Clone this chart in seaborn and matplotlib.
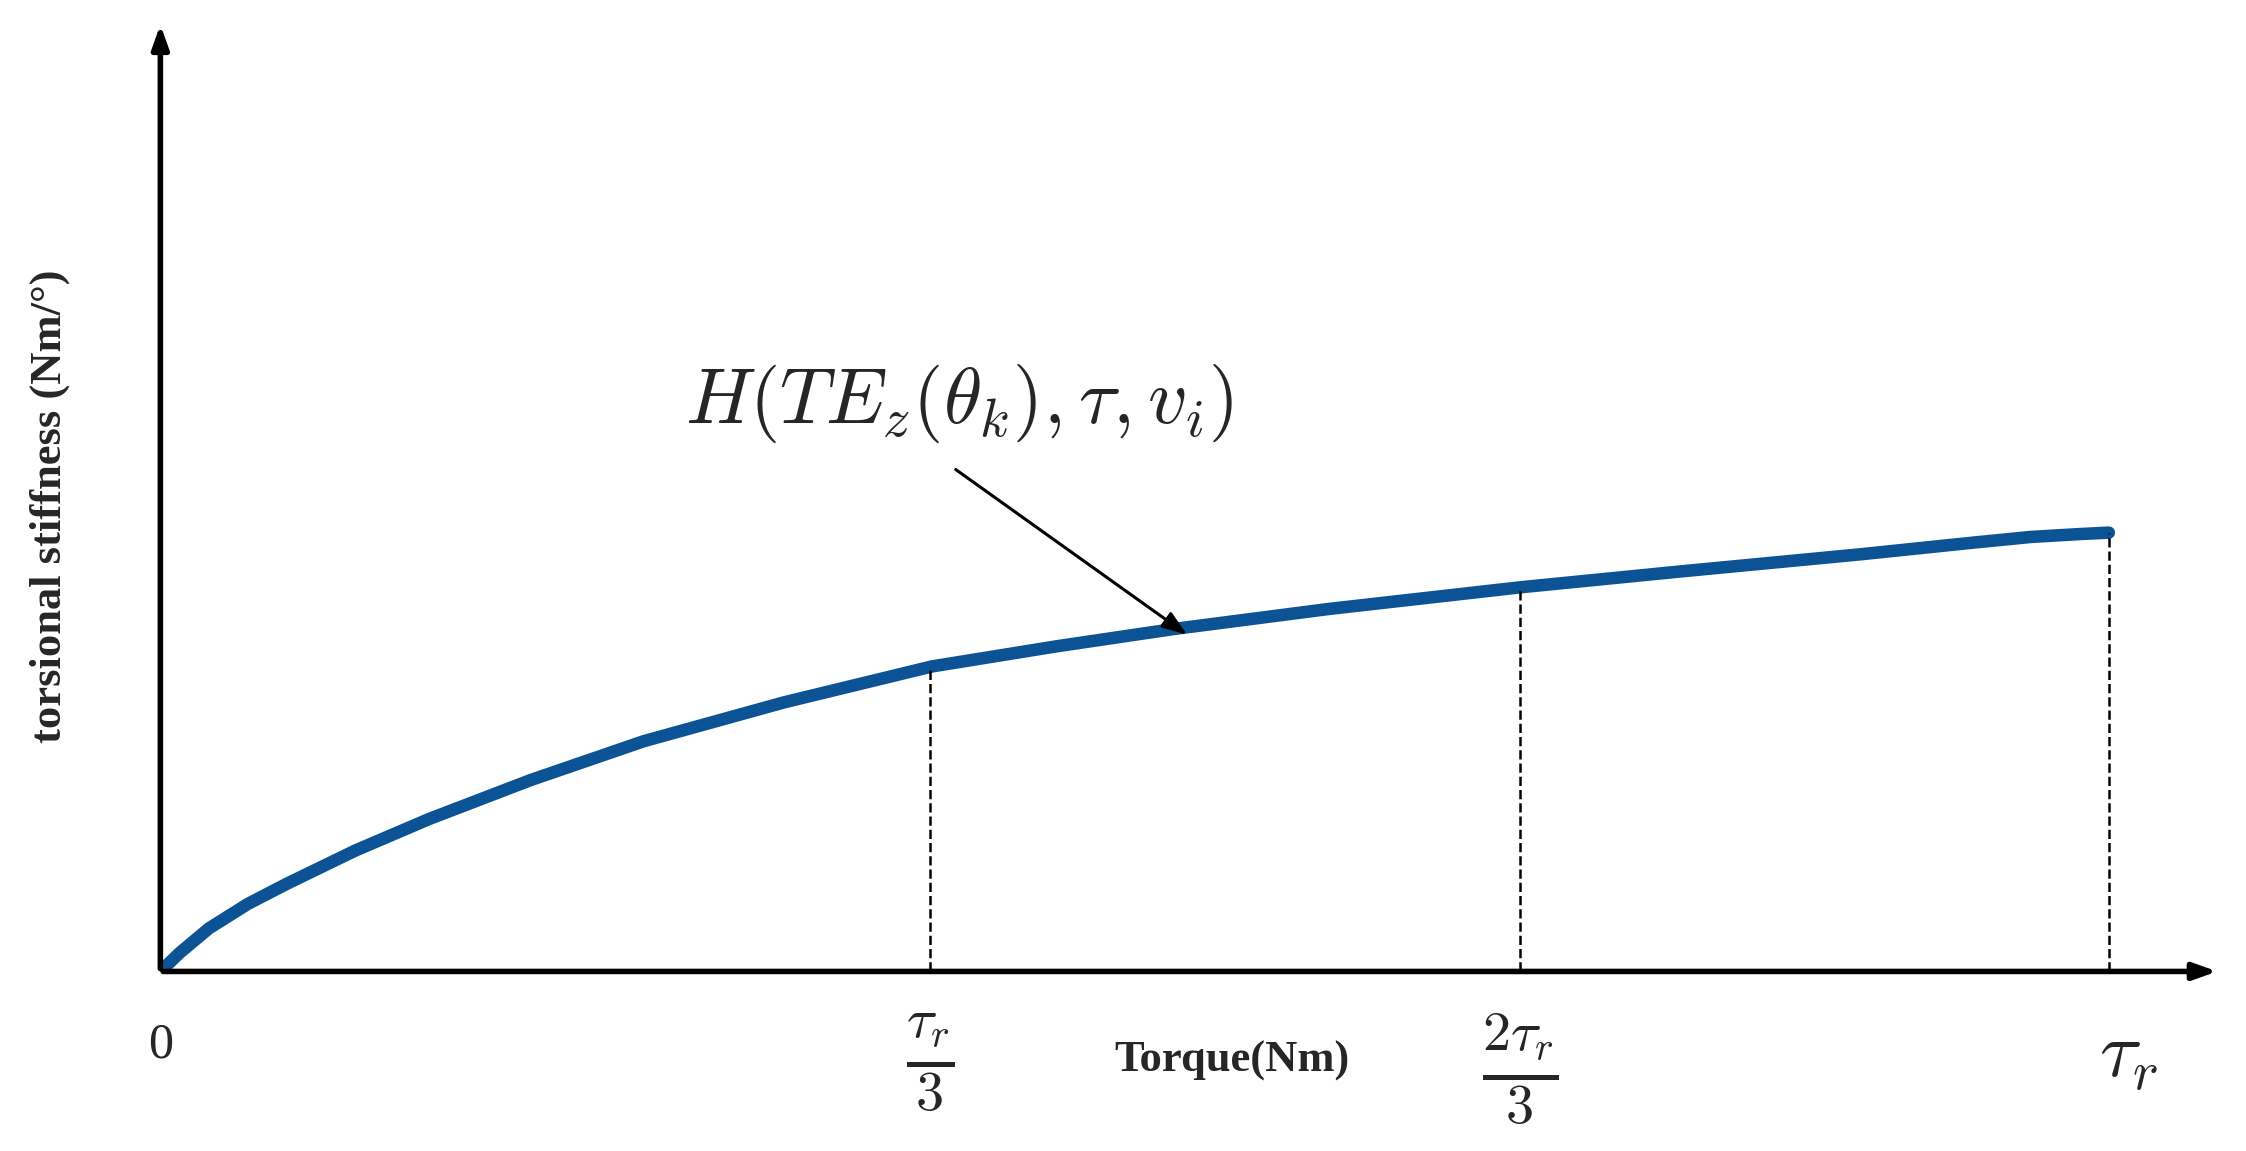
import matplotlib
matplotlib.use("Agg")
import matplotlib.pyplot as plt
import seaborn as sns
import pandas as pd
import numpy as np

sns.set_style("white")
plt.rcParams['font.family'] = ['Liberation Serif', 'DejaVu Serif']
plt.rcParams['mathtext.fontset'] = 'cm'

torque = [0, 0.01, 0.025, 0.045, 0.065, 0.1, 0.138, 0.19, 0.248, 0.32, 0.396,
          0.46, 0.52, 0.6, 0.698, 0.78, 0.873, 0.93, 0.96, 0.985, 1.0]
stiffness = [0, 13, 30, 47, 61, 84, 106, 133, 160, 187, 212,
             226, 238, 252, 267, 278, 290, 298, 302, 304, 305]
tick_pos = [0, 0.395, 0.698, 1.0]
tick_labels = ["0", r"$\frac{\tau_r}{3}$", r"$\frac{2\tau_r}{3}$", r"$\tau_r$"]

fig = plt.figure(figsize=(22.46, 11.51), dpi=100)
ax = fig.add_axes([0.0714, 0.156, 0.917, 0.825])
df = pd.DataFrame({"x": torque, "y": stiffness})
sns.lineplot(data=df, x="x", y="y", ax=ax, color="#0b5394", linewidth=9, solid_capstyle="round")
ax.set_xlim(0, 1.057)
ax.set_ylim(0, 660)
for s in ax.spines.values():
    s.set_visible(False)
ax.set_xticks([]); ax.set_yticks([])
ax.set_xlabel(""); ax.set_ylabel("")

ax.annotate("", xy=(1.057, 0), xytext=(0, 0), xycoords="data",
            arrowprops=dict(arrowstyle="-|>,head_length=1.4,head_width=0.5", color="black", lw=4),
            annotation_clip=False)
ax.annotate("", xy=(0, 660), xytext=(0, 0), xycoords="data",
            arrowprops=dict(arrowstyle="-|>,head_length=1.4,head_width=0.5", color="black", lw=4),
            annotation_clip=False)

for xp in tick_pos[1:]:
    yy = np.interp(xp, torque, stiffness)
    ax.plot([xp, xp], [0, yy], ls="--", color="black", lw=1.8)

for xp, lab in zip(tick_pos, tick_labels):
    if xp == 0:
        ax.text(xp, -35, lab, ha="center", va="top", fontsize=36)
    elif xp == 1.0:
        ax.text(xp + 0.01, -35, lab, ha="center", va="top", fontsize=56)
    else:
        ax.text(xp, -28, lab, ha="center", va="top", fontsize=58)

ax.text(0.55, -62, "Torque(Nm)", ha="center", va="center", fontsize=32, fontweight="bold")
fig.text(0.022, 0.56, "torsional stiffness (Nm/°)", rotation=90, ha="center", va="center",
         fontsize=32, fontweight="bold")

ax.text(0.41, 395, r"$H(TE_z(\theta_k),\tau,v_i)$", ha="center", va="center", fontsize=56)
ax.annotate("", xy=(0.528, 233), xytext=(0.407, 350),
            arrowprops=dict(arrowstyle="-|>,head_length=1.5,head_width=0.55", color="black", lw=2.2))

fig.savefig("out.png", dpi=100)
